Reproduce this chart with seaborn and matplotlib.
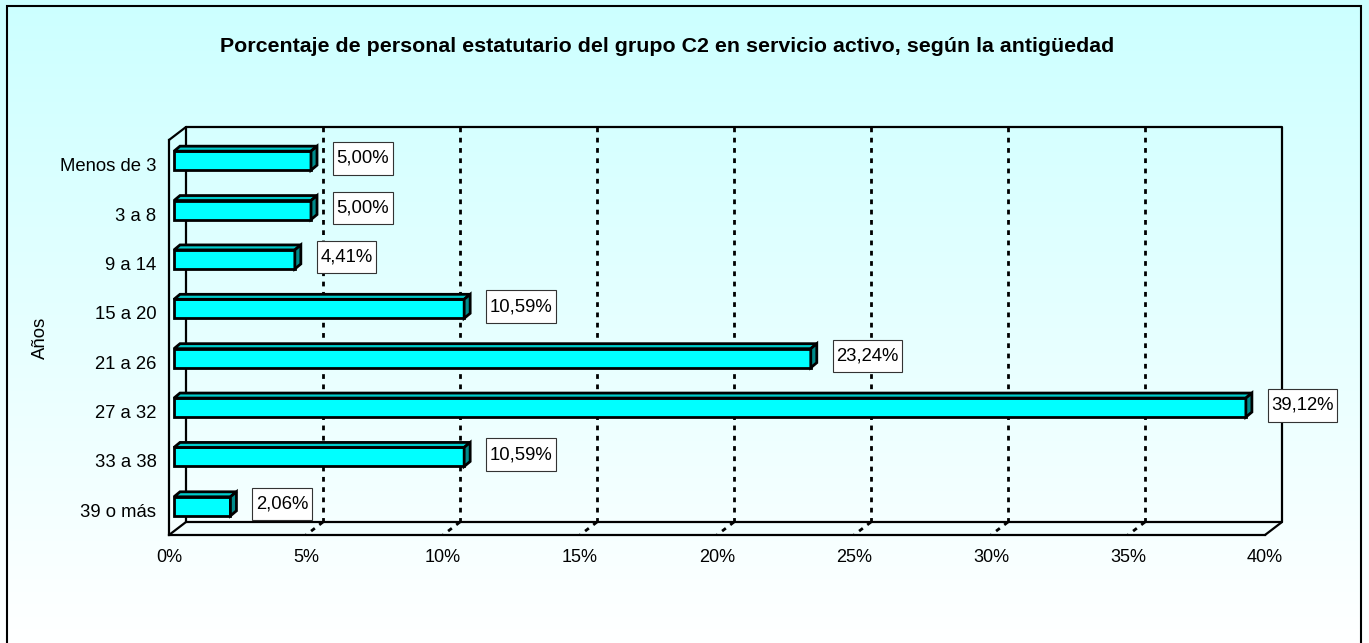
import numpy as np
import matplotlib
matplotlib.use("Agg")
import matplotlib.pyplot as plt
import seaborn as sns
from matplotlib.patches import Polygon, Rectangle
from matplotlib.colors import LinearSegmentedColormap
from matplotlib.path import Path

# ==========================
# Data
# ==========================

categorias = ["Menos de 3", "3 a 8", "9 a 14", "15 a 20", "21 a 26", "27 a 32", "33 a 38", "39 o más"]
porcentajes = [5.00, 5.00, 4.41, 10.59, 23.24, 39.12, 10.59, 2.06]
etiquetas = ["5,00%", "5,00%", "4,41%", "10,59%", "23,24%", "39,12%", "10,59%", "2,06%"]
x_ticks = [0, 5, 10, 15, 20, 25, 30, 35, 40]
x_ticklabels = ["0%", "5%", "10%", "15%", "20%", "25%", "30%", "35%", "40%"]

titulo = "Porcentaje de personal estatutario del grupo C2 en servicio activo, según la antigüedad"

# ==========================
# Style
# ==========================

sns.set_style("white")
plt.rcParams['font.family'] = ['Liberation Sans', 'DejaVu Sans']
plt.rcParams['text.color'] = "black"
plt.rcParams['xtick.color'] = "black"
plt.rcParams['ytick.color'] = "black"
plt.rcParams['axes.labelcolor'] = "black"

W, H = 1369, 643
fig = plt.figure(figsize=(W / 100, H / 100), dpi=100)

# background gradient
ax_bg = fig.add_axes([0, 0, 1, 1], zorder=-5)
grad = np.linspace(0, 1, 256).reshape(-1, 1)
cmap_bg = LinearSegmentedColormap.from_list("bg", ["#CCFFFF", "#FFFFFF"])
ax_bg.imshow(grad, aspect="auto", cmap=cmap_bg, extent=[0, 1, 0, 1])
ax_bg.set_axis_off()

# outer frame (bottom edge is cut off in the original)
fig.add_artist(Rectangle((6.5 / W, -0.05), (1360.5 - 6.5) / W, 1.05 - 5.5 / H,
                         transform=fig.transFigure, fill=False, edgecolor="black", lw=1.5))

# front plane of the pseudo-3D chart
left, right, top, bottom = 169, 1265, 140, 535
ax = fig.add_axes([left / W, 1 - bottom / H, (right - left) / W, (bottom - top) / H], zorder=1)
ax.set_facecolor("none")

sns.barplot(x=porcentajes, y=categorias, orient="h", color="#00FFFF", saturation=1,
            edgecolor="black", linewidth=2, width=0.385, ax=ax, zorder=5)

ax.set_xlim(0, 40)
ax.set_ylim(len(categorias) - 0.5, -0.5)

# pixel -> data conversions
ppx = (right - left) / 40.0
ppy = (bottom - top) / len(categorias)
DX, DY = 17 / ppx, 13 / ppy          # depth of the chart box
SX, SY = 5 / ppx, 4 / ppy            # bars sit a little behind the front plane
BX, BY = 6 / ppx, 5 / ppy            # depth of each bar

y0, y1 = -0.5, len(categorias) - 0.5
line_kw = dict(color="black", lw=1.6, clip_on=False, zorder=3)

# back wall
ax.plot([DX, 40 + DX, 40 + DX, DX, DX], [y0 - DY, y0 - DY, y1 - DY, y1 - DY, y0 - DY], **line_kw)
# floor
ax.add_patch(Polygon([(0, y1), (40, y1), (40 + DX, y1 - DY), (DX, y1 - DY)], closed=True,
                     facecolor="#F2FFFF", edgecolor="none", clip_on=False, zorder=0.5))
# connecting diagonals
ax.plot([0, DX], [y0, y0 - DY], **line_kw)
ax.plot([0, DX], [y1, y1 - DY], **line_kw)
ax.plot([40, 40 + DX], [y1, y1 - DY], **line_kw)

# dashed grid lines on back wall and floor
for xv in x_ticks[1:-1]:
    ax.plot([xv + DX, xv + DX], [y0 - DY, y1 - DY], color="black", lw=2.0,
            ls=(0, (1.7, 2.0)), clip_on=False, zorder=2)
    ax.plot([xv + DX, xv], [y1 - DY, y1], color="black", lw=2.0,
            ls=(0, (1.7, 2.0)), clip_on=False, zorder=2)

# bars: shift front face and add top / side faces
for p in list(ax.patches):
    if not isinstance(p, Rectangle):
        continue
    p.set_x(p.get_x() + SX)
    p.set_y(p.get_y() - SY)
    L = p.get_x()
    R = L + p.get_width()
    T = p.get_y()
    B = T + p.get_height()
    ax.add_patch(Polygon([(L, T), (R, T), (R + BX, T - BY), (L + BX, T - BY)], closed=True,
                         facecolor="#00CCCC", edgecolor="black", lw=2, zorder=5, clip_on=False))
    ax.add_patch(Polygon([(R, T), (R, B), (R + BX, B - BY), (R + BX, T - BY)], closed=True,
                         facecolor="#008B8B", edgecolor="black", lw=2, zorder=5, clip_on=False))


def label_box(x0, y0, width, height, mutation_size):
    px = 0.19 * mutation_size
    py = 0.42 * mutation_size
    xa, xb = x0 - px, x0 + width + px
    ya, yb = y0 - py, y0 + height + py
    return Path([(xa, ya), (xb, ya), (xb, yb), (xa, yb), (xa, ya)],
                [Path.MOVETO, Path.LINETO, Path.LINETO, Path.LINETO, Path.CLOSEPOLY])


# value labels
for i, (v, txt) in enumerate(zip(porcentajes, etiquetas)):
    ax.annotate(txt, xy=(v, i), xytext=(22, 4.5), textcoords="offset points",
                ha="left", va="center", fontsize=13.3, color="black", zorder=10,
                annotation_clip=False,
                bbox=dict(boxstyle=label_box, facecolor="white", edgecolor="#333333", lw=0.8))

# axes / ticks
for s in ["top", "right"]:
    ax.spines[s].set_visible(False)
for s in ["left", "bottom"]:
    ax.spines[s].set_linewidth(1.6)
    ax.spines[s].set_color("black")
    ax.spines[s].set_zorder(4)

ax.set_xticks(x_ticks)
ax.set_xticklabels(x_ticklabels, fontsize=13)
ax.tick_params(axis="x", direction="out", length=4, width=1, color="black", pad=6)
ax.set_yticks(range(len(categorias)))
ax.set_yticklabels(categorias, fontsize=13.3)
ax.tick_params(axis="y", which="major", length=0, pad=9)
ax.set_yticks(np.arange(-0.5, len(categorias), 1.0), minor=True)
ax.tick_params(axis="y", which="minor", direction="out", length=5, width=1, color="black")
ax.set_xlabel("")
ax.set_ylabel("")
ax.grid(False)

fig.text(40 / W, 1 - 338 / H, "Años", rotation=90, ha="center", va="center", fontsize=13.3)
fig.text(667 / W, 1 - 47 / H, titulo, ha="center", va="center", fontsize=15.4, fontweight="bold")

plt.savefig("out.png", dpi=100)
